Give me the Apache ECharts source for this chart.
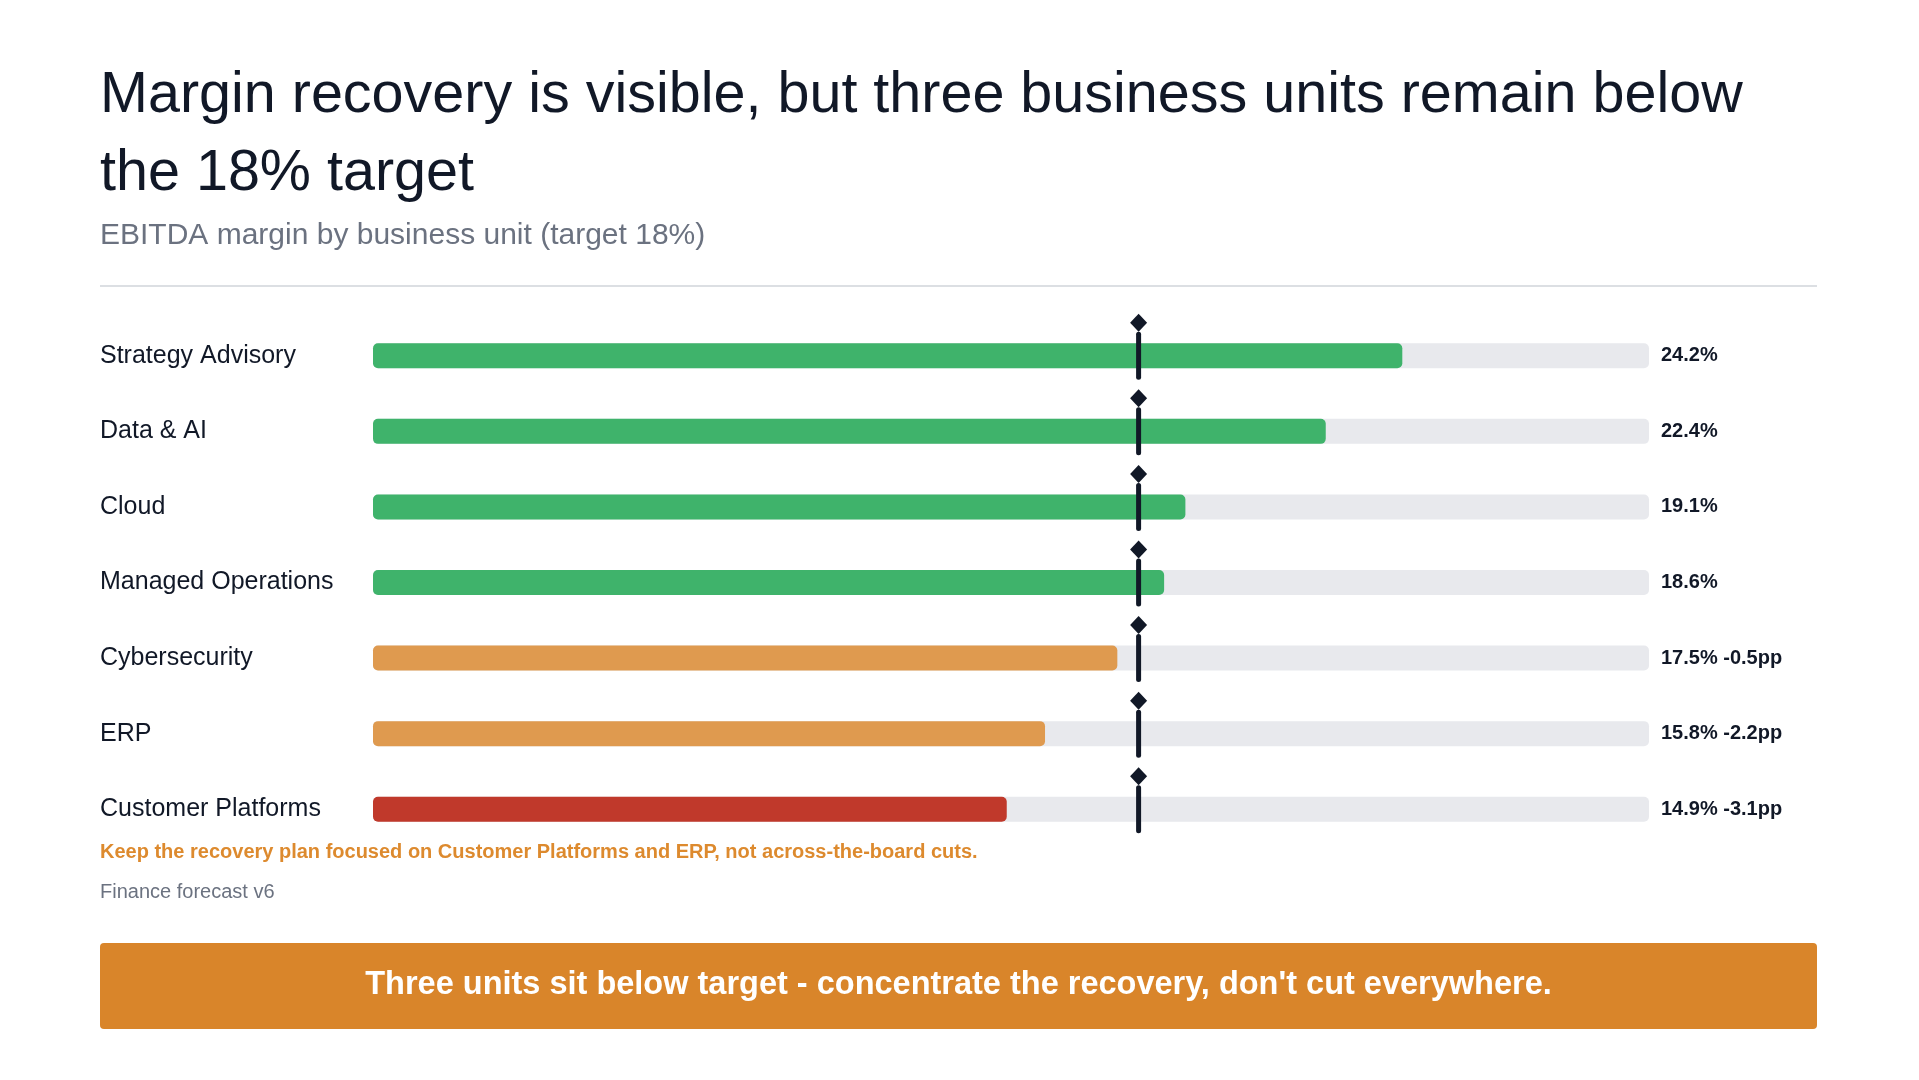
<!DOCTYPE html>
<html>
<head>
<meta charset="utf-8">
<title>EBITDA margin by business unit</title>
<script src="https://cdn.jsdelivr.net/npm/echarts@6/dist/echarts.min.js"></script>
<style>
  html, body { margin: 0; padding: 0; background: #fff; }
  #chart { width: 1919px; height: 1080px; }
</style>
</head>
<body>
<div id="chart"></div>
<script>
// business units, top to bottom
const units = ['Strategy Advisory', 'Data & AI', 'Cloud', 'Managed Operations', 'Cybersecurity', 'ERP', 'Customer Platforms'];
// EBITDA margin, %
const margins = [24.2, 22.4, 19.1, 18.6, 17.5, 15.8, 14.9];
const targets = [18, 18, 18, 18, 18, 18, 18];
const axisMin = 0;
const axisMax = 30;

const ink = '#111827';
const font = '"Liberation Sans", Arial, Helvetica, sans-serif';

// green when on target, amber when close, red when far off
function barColor(v, t) {
  if (v >= t) return '#3fb36b';
  if (t - v <= 2.5) return '#df9a4f';
  return '#c0392b';
}

const valueLabels = margins.map((v, i) => {
  let s = v.toFixed(1) + '%';
  if (v < targets[i]) s += ' -' + (targets[i] - v).toFixed(1) + 'pp';
  return s;
});

const option = {
  animation: false,
  backgroundColor: '#fff',
  title: [
    {
      text: 'Margin recovery is visible, but three business units remain below\nthe 18% target',
      left: 100,
      top: 57,
      padding: 0,
      textStyle: { fontFamily: font, fontSize: 57.5, fontWeight: 'normal', color: ink, lineHeight: 78 }
    },
    {
      text: 'EBITDA margin by business unit (target 18%)',
      left: 100,
      top: 219,
      padding: 0,
      textStyle: { fontFamily: font, fontSize: 30, fontWeight: 'normal', color: '#6b7280', lineHeight: 34 }
    }
  ],
  grid: { left: 373, right: 270, top: 318, bottom: 233 },
  xAxis: {
    type: 'value', min: axisMin, max: axisMax,
    show: false
  },
  yAxis: [
    {
      type: 'category', data: units, inverse: true,
      axisLine: { show: false }, axisTick: { show: false },
      axisLabel: { align: 'left', margin: 273, fontFamily: font, fontSize: 25, color: ink }
    },
    {
      type: 'category', data: valueLabels, inverse: true, position: 'right',
      axisLine: { show: false }, axisTick: { show: false },
      axisLabel: { align: 'left', margin: 12, fontFamily: font, fontSize: 20, fontWeight: 'bold', color: ink }
    }
  ],
  series: [
    {
      type: 'bar',
      yAxisIndex: 0,
      barWidth: 25,
      showBackground: true,
      backgroundStyle: { color: '#e8e9ed', borderRadius: 5 },
      data: margins.map((v, i) => ({ value: v, itemStyle: { color: barColor(v, targets[i]) } })),
      itemStyle: { borderRadius: 5 }
    },
    {
      type: 'custom',
      yAxisIndex: 0,
      data: targets.map((t, i) => [t, i]),
      encode: { x: 0, y: 1 },
      z: 10,
      renderItem: function (params, api) {
        const p = api.coord([api.value(0), api.value(1)]);
        const x = p[0], y = p[1];
        return {
          type: 'group',
          children: [
            {
              type: 'line',
              shape: { x1: x, y1: y - 21.5, x2: x, y2: y + 21.5 },
              style: { stroke: ink, lineWidth: 5, lineCap: 'round' }
            },
            {
              type: 'polygon',
              shape: { points: [[x, y - 42], [x + 8.5, y - 33], [x, y - 24], [x - 8.5, y - 33]] },
              style: { fill: ink }
            }
          ]
        };
      }
    }
  ],
  graphic: [
    {
      type: 'line',
      shape: { x1: 100, y1: 286, x2: 1817, y2: 286 },
      style: { stroke: '#dcdfe3', lineWidth: 2 }
    },
    {
      type: 'text',
      style: {
        x: 100, y: 852, text: 'Keep the recovery plan focused on Customer Platforms and ERP, not across-the-board cuts.',
        font: 'bold 20px ' + font, fill: '#dd8a2e', textVerticalAlign: 'middle'
      }
    },
    {
      type: 'text',
      style: {
        x: 100, y: 892, text: 'Finance forecast v6',
        font: '20px ' + font, fill: '#6b7280', textVerticalAlign: 'middle'
      }
    },
    {
      type: 'rect',
      shape: { x: 100, y: 943, width: 1717, height: 86, r: 4 },
      style: { fill: '#d9852a' }
    },
    {
      type: 'text',
      style: {
        x: 958.5, y: 985, text: "Three units sit below target - concentrate the recovery, don't cut everywhere.",
        font: 'bold 32.5px ' + font, fill: '#fff', textAlign: 'center', textVerticalAlign: 'middle'
      }
    }
  ]
};

const chart = echarts.init(document.getElementById('chart'));
chart.setOption(option);
</script>
</body>
</html>
